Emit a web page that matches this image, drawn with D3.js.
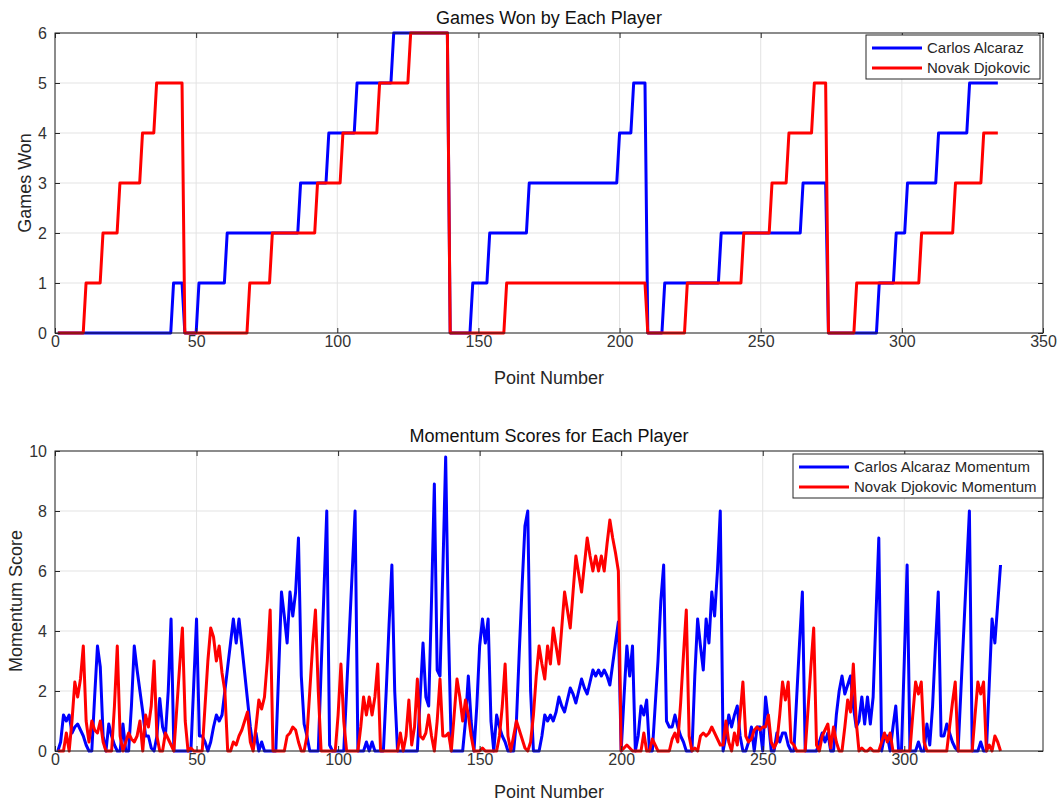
<!DOCTYPE html>
<html>
<head>
<meta charset="utf-8">
<script src="https://cdn.jsdelivr.net/npm/d3@7"></script>
<style>
    body { margin: 0; background: #ffffff; }
    svg text { font-family: "Liberation Sans", Arial, Helvetica, sans-serif; }
</style>
</head>
<body>
<svg id="chart" width="1062" height="803"></svg>
<script>

///////////////////////////////////////////
// Data
///////////////////////////////////////////
var players = ["Carlos Alcaraz", "Novak Djokovic"];
var playerColors = ["#0000ff", "#ff0000"];
var pointCount = 334;

// games won in the current set: [point number where the score starts, games]
var alcarazGameSteps = [[1, 0], [42, 1], [46, 0], [51, 1], [61, 2], [87, 3], [97, 4], [107, 5], [120, 6],
    [140, 0], [148, 1], [154, 2], [168, 3], [200, 4], [205, 5], [210, 0], [216, 1], [236, 2], [265, 3],
    [274, 0], [292, 1], [298, 2], [302, 3], [313, 4], [324, 5]];
var djokovicGameSteps = [[1, 0], [11, 1], [17, 2], [23, 3], [31, 4], [36, 5], [46, 0], [69, 1], [77, 2],
    [93, 3], [102, 4], [115, 5], [126, 6], [140, 0], [160, 1], [210, 0], [224, 1], [244, 2], [254, 3],
    [260, 4], [269, 5], [274, 0], [284, 1], [307, 2], [319, 3], [329, 4]];

// momentum score per point (points 1..334)
var alcarazMomentum = [
    0, 0.3, 1.2, 1.0, 1.2, 0.6, 0.8, 0.9, 0.7, 0.5,
    0.2, 0, 0, 1.8, 3.5, 2.8, 0.5, 0, 0.9, 0.5,
    0.2, 0, 0, 0.9, 0, 0, 1.5, 3.5, 2.7, 2.0,
    1.3, 0.5, 0.5, 0.1, 0, 0.5, 1.75, 0.8, 0.5, 2.0,
    4.4, 0, 0, 0, 0, 0, 0, 0, 2.2, 4.4,
    0.5, 0.5, 0.3, 0, 0.3, 0.8, 1.2, 1.0, 1.2, 2.0,
    2.8, 3.6, 4.4, 3.6, 4.4, 3.5, 2.6, 1.7, 0.8, 0.1,
    0.6, 0, 0.3, 0, 0, 0, 0, 0, 2.6, 5.3,
    4.5, 3.6, 5.3, 4.5, 5.3, 7.1, 2.5, 0.9, 0.5, 0,
    0, 0, 0, 2.7, 5.3, 8.0, 0.2, 0, 0, 0,
    0, 0, 2.0, 4.0, 6.0, 8.0, 0, 0, 0, 0.3,
    0, 0.3, 0, 0, 0, 0, 2.0, 4.2, 6.2, 2.0,
    0, 0, 0, 0, 0, 0, 0, 0, 1.8, 3.6,
    1.8, 1.5, 5.0, 8.9, 2.7, 2.5, 6.0, 9.8, 4.0, 0,
    0, 0, 0, 0, 1.0, 2.5, 1.0, 0, 1.5, 3.5,
    4.4, 3.6, 4.4, 1.0, 0, 1.2, 0.8, 0.5, 0.3, 0,
    0, 0, 1.0, 3.3, 5.5, 7.5, 8.0, 2.0, 0, 0,
    0, 0.5, 1.2, 1.0, 1.2, 1.0, 1.3, 1.8, 1.5, 1.3,
    1.7, 2.1, 1.9, 1.6, 2.0, 2.4, 2.1, 1.9, 2.3, 2.7,
    2.5, 2.7, 2.5, 2.7, 2.5, 2.2, 2.9, 3.6, 4.3, 0,
    1.8, 3.5, 2.5, 3.5, 0, 0.5, 1.5, 1.2, 1.7, 0,
    0, 1.5, 3.0, 5.0, 6.2, 1.0, 0.8, 0.8, 1.2, 0.8,
    0.5, 0.3, 0, 0, 0, 2.5, 4.4, 3.5, 2.7, 4.4,
    3.6, 5.3, 4.5, 6.0, 8.0, 0, 0.5, 1.2, 0.8, 1.2,
    1.5, 0.5, 0, 0, 0.3, 0.8, 0, 0.8, 0.8, 0,
    1.8, 1.0, 0, 0, 0.6, 0.3, 0.6, 0.6, 0.2, 0,
    0, 1.8, 3.6, 5.3, 0, 0, 0, 0, 0, 0.3,
    0.6, 0.3, 0.6, 0, 0, 1.2, 2.0, 2.5, 1.9, 2.2,
    2.5, 1.5, 0.8, 1.0, 1.8, 0.9, 1.8, 0.9, 1.8, 4.5,
    7.1, 0, 0.5, 0.5, 0, 0.8, 1.5, 0, 0, 3.0,
    6.2, 0, 0, 0, 0.3, 0, 0, 0.9, 0.2, 1.5,
    3.5, 5.3, 0.5, 0.5, 0.9, 0.6, 0.3, 0.1, 0, 2.0,
    4.0, 6.0, 8.0, 0, 0, 0, 0.3, 0, 0, 2.2,
    4.4, 3.6, 4.9, 6.2
];
var djokovicMomentum = [
    0, 0, 0, 0.6, 0, 1.0, 2.3, 1.8, 2.4, 3.5,
    1.0, 0.3, 1.0, 0.7, 0.6, 1.0, 0.3, 0, 0, 0,
    1.5, 3.5, 0.5, 0, 0.3, 0.6, 0.4, 0.3, 0.5, 1.0,
    0, 1.2, 0.8, 1.5, 3.0, 0.5, 0, 0, 0.6, 0.4,
    0.2, 0, 1.4, 2.8, 4.1, 1.0, 0, 0.1, 0, 0,
    0, 0, 1.5, 3.0, 4.1, 3.8, 3.0, 3.5, 2.6, 2.0,
    0, 0, 0.3, 0.2, 0.5, 0.7, 1.0, 1.3, 0.3, 0,
    0.8, 1.7, 1.4, 1.8, 3.0, 4.7, 0, 0, 0, 0,
    0, 0.5, 0.6, 0.8, 0.7, 0.3, 0, 0, 0.5, 2.0,
    3.5, 4.7, 2.0, 0, 0, 0, 0, 0, 0, 1.2,
    2.9, 1.0, 0, 0, 0, 0, 0, 0.8, 1.8, 1.2,
    1.8, 1.2, 1.8, 2.9, 0, 0, 0, 0, 0, 0,
    0, 0.6, 0, 0.5, 1.7, 0.2, 0.8, 2.4, 0.5, 0.4,
    0.6, 1.2, 0.5, 0, 1.0, 2.4, 0.5, 0.5, 0.6, 0,
    1.2, 2.4, 1.8, 1.0, 1.7, 1.2, 0.5, 0, 0, 0,
    0.1, 0, 0, 0, 0, 0, 0.5, 1.5, 2.9, 0.5,
    0, 0.5, 1.0, 0.7, 0.4, 0.1, 0, 0.3, 1.2, 2.5,
    3.5, 2.9, 2.4, 3.5, 2.9, 4.1, 3.5, 2.9, 4.1, 5.3,
    4.7, 4.1, 5.3, 6.5, 5.9, 5.3, 6.2, 7.1, 6.5, 6.0,
    6.5, 6.0, 6.5, 6.0, 6.9, 7.7, 7.1, 6.6, 6.0, 0,
    0.1, 0.2, 0.1, 0, 0, 0, 0, 0.6, 0, 0,
    0.4, 0.2, 0, 0, 0, 0, 0, 0.4, 0.6, 0.3,
    1.6, 3.2, 4.7, 0.5, 0, 0.1, 0, 0.5, 0.6, 0.5,
    0.6, 0.8, 0.6, 0.4, 0.2, 0.2, 1.0, 0.3, 0, 0.6,
    0.2, 1.2, 2.3, 0.5, 0.3, 0.4, 0.7, 0.8, 0.7, 0.8,
    0.8, 1.2, 0.3, 0.1, 0.3, 1.2, 2.3, 1.7, 2.3, 0.3,
    0.2, 0, 0, 0, 0, 1.4, 2.8, 4.1, 0.2, 0,
    0.5, 0.7, 0.9, 0.1, 0.8, 0.3, 0, 0, 0.8, 1.7,
    1.3, 2.9, 1.0, 0, 0.1, 0, 0, 0.1, 0, 0,
    0, 0.3, 0.6, 0.3, 0.6, 0, 0, 0, 0, 0,
    0, 0, 1.2, 2.3, 1.9, 2.3, 0.3, 0, 0, 0,
    0, 0, 0, 0, 0, 0.8, 1.6, 2.3, 0, 0,
    0, 0, 0, 0, 1.2, 2.3, 1.9, 2.3, 0, 0.2,
    0, 0.5, 0.3, 0
];

var gamesXTicks = [0, 50, 100, 150, 200, 250, 300, 350];
var gamesYTicks = [0, 1, 2, 3, 4, 5, 6];
var momentumXTicks = [0, 50, 100, 150, 200, 250, 300];
var momentumYTicks = [0, 2, 4, 6, 8, 10];

///////////////////////////////////////////
// Helpers
///////////////////////////////////////////
function expandSteps(steps) {
    // one value per point from the score change list
    var out = [];
    for (var p = 1; p <= pointCount; p++) {
        var v = 0;
        steps.forEach(function(s) { if (s[0] <= p) v = s[1]; });
        out.push({x: p, y: v});
    }
    return out;
}

function toPoints(values) {
    return values.map(function(v, i) { return {x: i + 1, y: v}; });
}

var svg = d3.select("#chart");
var left = 55, right = 1043;

function drawPanel(cfg) {
    var x = d3.scaleLinear().domain(cfg.xDomain).range([left, right]);
    var y = d3.scaleLinear().domain(cfg.yDomain).range([cfg.bottom, cfg.top]);
    var g = svg.append("g");
    var fmt = d3.format("d");

    // grid
    g.selectAll(".gx").data(cfg.xTicks).enter().append("line")
        .attr("x1", function(d) { return x(d); }).attr("x2", function(d) { return x(d); })
        .attr("y1", cfg.top).attr("y2", cfg.bottom)
        .attr("stroke", "#e3e3e3").attr("stroke-width", 1);
    g.selectAll(".gy").data(cfg.yTicks).enter().append("line")
        .attr("x1", left).attr("x2", right)
        .attr("y1", function(d) { return y(d); }).attr("y2", function(d) { return y(d); })
        .attr("stroke", "#e3e3e3").attr("stroke-width", 1);

    // series
    var line = d3.line()
        .x(function(d) { return x(d.x); })
        .y(function(d) { return y(d.y); });
    cfg.series.forEach(function(s, i) {
        g.append("path")
            .datum(s)
            .attr("fill", "none")
            .attr("stroke", playerColors[i])
            .attr("stroke-width", 3)
            .attr("stroke-linejoin", "round")
            .attr("d", line);
    });

    // axes, ticks inside the box
    var axisColor = "#262626";
    var bx = g.append("g").attr("transform", "translate(0," + cfg.bottom + ")")
        .call(d3.axisBottom(x).tickValues(cfg.xTicks).tickSize(-5).tickPadding(3).tickFormat(fmt));
    var tx = g.append("g").attr("transform", "translate(0," + cfg.top + ")")
        .call(d3.axisTop(x).tickValues(cfg.xTicks).tickSize(-5).tickFormat(""));
    var ly = g.append("g").attr("transform", "translate(" + left + ",0)")
        .call(d3.axisLeft(y).tickValues(cfg.yTicks).tickSize(-5).tickPadding(8).tickFormat(fmt));
    var ry = g.append("g").attr("transform", "translate(" + right + ",0)")
        .call(d3.axisRight(y).tickValues(cfg.yTicks).tickSize(-5).tickFormat(""));
    [bx, tx, ly, ry].forEach(function(a) {
        a.select(".domain").remove();
        a.selectAll(".tick line").attr("stroke", axisColor);
        a.selectAll(".tick text").attr("fill", "#333333").style("font-size", "16px");
    });

    g.append("rect")
        .attr("x", left).attr("y", cfg.top)
        .attr("width", right - left).attr("height", cfg.bottom - cfg.top)
        .attr("fill", "none").attr("stroke", axisColor).attr("stroke-width", 1);

    // titles
    g.append("text")
        .attr("x", (left + right) / 2).attr("y", cfg.top - 9)
        .attr("text-anchor", "middle").attr("fill", "#111111")
        .style("font-size", "18px").text(cfg.title);
    g.append("text")
        .attr("x", (left + right) / 2).attr("y", cfg.bottom + cfg.xLabelGap)
        .attr("text-anchor", "middle").attr("fill", "#262626")
        .style("font-size", "18px").text(cfg.xLabel);
    g.append("text")
        .attr("transform", "translate(" + cfg.yLabelX + "," + ((cfg.top + cfg.bottom) / 2) + ") rotate(-90)")
        .attr("text-anchor", "middle").attr("fill", "#262626")
        .style("font-size", "18px").text(cfg.yLabel);

    // legend
    var lg = g.append("g");
    lg.append("rect")
        .attr("x", cfg.legend.x).attr("y", cfg.legend.y)
        .attr("width", cfg.legend.w).attr("height", 44)
        .attr("fill", "#ffffff").attr("stroke", axisColor).attr("stroke-width", 1);
    cfg.legend.labels.forEach(function(label, i) {
        var rowY = cfg.legend.y + 13 + i * 20;
        lg.append("line")
            .attr("x1", cfg.legend.x + 6).attr("x2", cfg.legend.x + 56)
            .attr("y1", rowY).attr("y2", rowY)
            .attr("stroke", playerColors[i]).attr("stroke-width", 3);
        lg.append("text")
            .attr("x", cfg.legend.x + 61).attr("y", rowY + 5)
            .attr("fill", "#262626").style("font-size", "15px").text(label);
    });
}

///////////////////////////////////////////
// Panels
///////////////////////////////////////////
drawPanel({
    top: 33, bottom: 333,
    xDomain: [0, 350], yDomain: [0, 6],
    xTicks: gamesXTicks, yTicks: gamesYTicks,
    series: [expandSteps(alcarazGameSteps), expandSteps(djokovicGameSteps)],
    title: "Games Won by Each Player",
    xLabel: "Point Number", xLabelGap: 51,
    yLabel: "Games Won", yLabelX: 31,
    legend: {x: 866, y: 35, w: 174, labels: players}
});

drawPanel({
    top: 451, bottom: 751,
    xDomain: [0, 349], yDomain: [0, 10],
    xTicks: momentumXTicks, yTicks: momentumYTicks,
    series: [toPoints(alcarazMomentum), toPoints(djokovicMomentum)],
    title: "Momentum Scores for Each Player",
    xLabel: "Point Number", xLabelGap: 47,
    yLabel: "Momentum Score", yLabelX: 22,
    legend: {x: 793, y: 454, w: 250, labels: players.map(function(p) { return p + " Momentum"; })}
});

</script>
</body>
</html>
